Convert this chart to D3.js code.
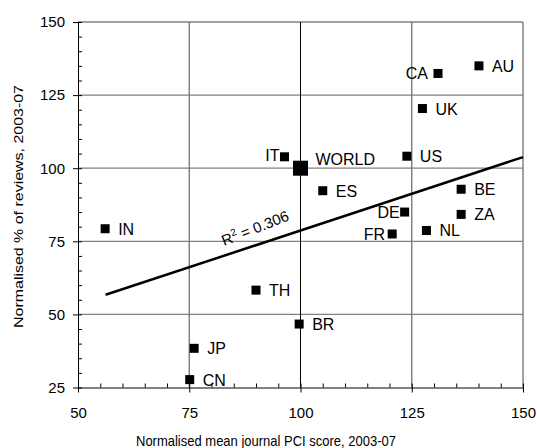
<!DOCTYPE html>
<html>
<head>
<meta charset="utf-8">
<script src="https://cdn.jsdelivr.net/npm/d3@7"></script>
<style>
  body { margin: 0; background: #fff; }
  text { font-family: "Liberation Sans", Arial, sans-serif; fill: #000; }
</style>
</head>
<body>
<div id="chart"></div>
<script>
// data
const countries = ["AU", "CA", "UK", "US", "IT", "WORLD", "ES", "BE", "DE", "ZA", "NL", "FR", "IN", "TH", "BR", "JP", "CN"];
const pciScore = [140.1, 130.9, 127.4, 123.9, 96.4, 100, 105, 136.1, 123.4, 136.1, 128.3, 120.6, 56.1, 90, 99.7, 76.1, 75.1];
const reviewShare = [135, 132.4, 120.4, 104.1, 103.9, 100, 92.3, 92.8, 85, 84.2, 78.7, 77.5, 79.3, 58.3, 46.7, 38.4, 27.7];
const xTicks = [50, 75, 100, 125, 150];
const yTicks = [25, 50, 75, 100, 125, 150];
const trendX = [56.2, 150];
const trendY = [56.7, 103.8];
const rSquared = "0.306";

// labels drawn on the left of their marker
const leftLabels = { CA: -10, DE: -5, FR: -7, IT: -5 };

const margin = { top: 22, right: 14, bottom: 60.5, left: 78 };
const width = 537 - margin.left - margin.right;
const height = 448 - margin.top - margin.bottom;

const svg = d3.select("#chart")
  .append("svg")
  .attr("width", 537)
  .attr("height", 448)
  .append("g")
  .attr("transform", "translate(" + margin.left + "," + margin.top + ")");

const xScale = d3.scaleLinear().domain([50, 150]).range([0, width]);
const yScale = d3.scaleLinear().domain([25, 150]).range([height, 0]);

// grid lines
svg.selectAll(".hgrid")
  .data(yTicks.filter(d => d > 25))
  .enter()
  .append("line")
  .attr("x1", 0)
  .attr("x2", width)
  .attr("y1", d => yScale(d))
  .attr("y2", d => yScale(d))
  .attr("stroke", "#808080")
  .attr("stroke-width", 1.3);

svg.selectAll(".vgrid")
  .data(xTicks.filter(d => d > 50))
  .enter()
  .append("line")
  .attr("x1", d => xScale(d))
  .attr("x2", d => xScale(d))
  .attr("y1", 0)
  .attr("y2", height)
  .attr("stroke", d => d === 100 ? "#000" : "#707070")
  .attr("stroke-width", d => d === 100 ? 1 : 1.3);

// minor ticks (inside)
const xMinor = svg.append("g")
  .attr("transform", "translate(0," + height + ")")
  .call(d3.axisBottom(xScale).ticks(20).tickSizeInner(-4).tickSizeOuter(0).tickFormat(""));
xMinor.select(".domain").remove();

const yMinor = svg.append("g")
  .call(d3.axisLeft(yScale).ticks(25).tickSizeInner(-4).tickSizeOuter(0).tickFormat(""));
yMinor.select(".domain").remove();

// major axes
const xAxis = svg.append("g")
  .attr("transform", "translate(0," + height + ")")
  .call(d3.axisBottom(xScale).tickValues(xTicks).tickSizeInner(5).tickSizeOuter(0).tickPadding(15));
xAxis.selectAll("text")
  .style("font-size", "15px")
  .attr("dy", "0.71em");

const yAxis = svg.append("g")
  .call(d3.axisLeft(yScale).tickValues(yTicks).tickSizeInner(5).tickSizeOuter(0).tickPadding(8));
yAxis.selectAll("text")
  .style("font-size", "15px");

svg.selectAll(".domain").attr("stroke", "#000");
svg.selectAll(".tick line").attr("stroke", "#000");

// trend line
svg.append("line")
  .attr("x1", xScale(trendX[0]))
  .attr("y1", yScale(trendY[0]))
  .attr("x2", xScale(trendX[1]))
  .attr("y2", yScale(trendY[1]))
  .attr("stroke", "#000")
  .attr("stroke-width", 2.5);

const r2 = svg.append("text")
  .attr("transform", "translate(" + (224 - margin.left) + "," + (246 - margin.top) + ") rotate(-21.5)")
  .style("font-size", "15px");
r2.append("tspan").text("R");
r2.append("tspan").attr("dy", -6).style("font-size", "10px").text("2");
r2.append("tspan").attr("dy", 6).text(" = " + rSquared);

// points
const points = countries.map((c, i) => ({ name: c, x: pciScore[i], y: reviewShare[i] }));

svg.selectAll(".pt")
  .data(points)
  .enter()
  .append("rect")
  .attr("class", "pt")
  .attr("x", d => xScale(d.x) - (d.name === "WORLD" ? 7.5 : 4.5))
  .attr("y", d => yScale(d.y) - (d.name === "WORLD" ? 7.5 : 4.5))
  .attr("width", d => d.name === "WORLD" ? 15 : 9)
  .attr("height", d => d.name === "WORLD" ? 15 : 9)
  .attr("fill", "#000");

svg.selectAll(".lbl")
  .data(points)
  .enter()
  .append("text")
  .attr("class", "lbl")
  .attr("x", d => xScale(d.x) + (d.name in leftLabels ? leftLabels[d.name] : (d.name === "WORLD" ? 15 : 13)))
  .attr("y", d => yScale(d.y) + (d.name === "WORLD" ? -3 : (d.name === "IT" ? 4 : 6)))
  .attr("text-anchor", d => d.name in leftLabels ? "end" : "start")
  .style("font-size", "16px")
  .text(d => d.name);

// axis titles
svg.append("text")
  .attr("x", 266 - margin.left)
  .attr("y", height + 58.5)
  .attr("text-anchor", "middle")
  .attr("textLength", 260)
  .attr("lengthAdjust", "spacingAndGlyphs")
  .style("font-size", "15px")
  .text("Normalised mean journal PCI score, 2003-07");

svg.append("text")
  .attr("transform", "rotate(-90)")
  .attr("x", -(206.5 - margin.top))
  .attr("y", 23 - margin.left)
  .attr("text-anchor", "middle")
  .attr("textLength", 243)
  .attr("lengthAdjust", "spacingAndGlyphs")
  .style("font-size", "13px")
  .text("Normalised % of reviews, 2003-07");
</script>
</body>
</html>
